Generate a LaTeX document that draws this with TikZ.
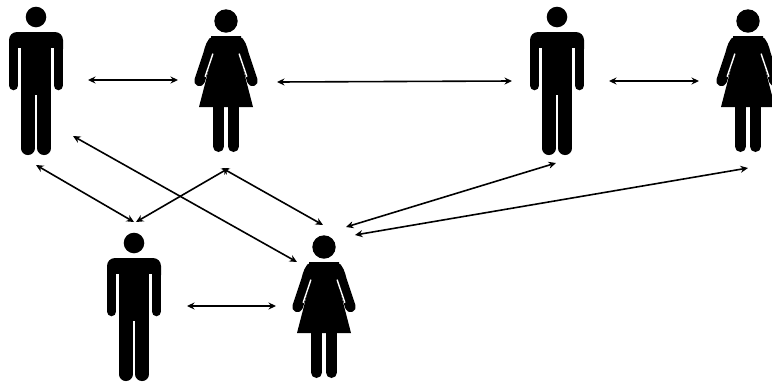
\documentclass[tikz,border=0pt]{standalone}
\usetikzlibrary{arrows.meta}
\tikzset{
  link/.style={draw=black,line width=1.6pt,{Stealth[length=7.5pt,width=7pt]}-{Stealth[length=7.5pt,width=7pt]}},
  manfig/.pic={
    \fill (0,0) circle (10.3);
    \fill[rounded corners=8pt] (-27,15) -- (27,15) -- (27,40) -- (-27,40) -- cycle;
    \fill[white] (-17.7,31) rectangle (-15,42);
    \fill[white] (17.7,31) rectangle (15,42);
    \fill (-15,30) rectangle (15,78);
    \draw[line width=9.5pt,line cap=round] (-22.3,30) -- (-22.3,68.5);
    \draw[line width=9.5pt,line cap=round] (22.3,30) -- (22.3,68.5);
    \draw[line width=13.5pt,line cap=round] (-8.2,70) -- (-8.2,131.3);
    \draw[line width=13.5pt,line cap=round] (8.2,70) -- (8.2,131.3);
  },
  womanfig/.pic={
    \fill (0,0) circle (11.7);
    \fill (-15,15) -- (15,15) -- (15,30) -- (13,32) -- (27,86) -- (-27,86) -- (-13,32) -- (-15,30) -- cycle;
    \draw[line width=10.5pt,line cap=round] (11,20.5) .. controls (14,20.5) and (16,27) .. (17.5,33) -- (26.5,60);
    \draw[line width=10.5pt,line cap=round] (-11,20.5) .. controls (-14,20.5) and (-16,27) .. (-17.5,33) -- (-26.5,60);
    \draw[white,line width=1.4pt,line cap=round] (13.2,33) -- (20.8,55.5);
    \draw[white,line width=1.4pt,line cap=round] (-13.2,33) -- (-20.8,55.5);
    \draw[line width=11pt,line cap=round] (-7.5,80) -- (-7.5,125.5);
    \draw[line width=11pt,line cap=round] (7.5,80) -- (7.5,125.5);
  }
}
\begin{document}
\begin{tikzpicture}[x=1pt,y=-1pt]
\useasboundingbox (0,0) rectangle (772,381);
\pic at (36,17) {manfig};
\pic at (226,21) {womanfig};
\pic at (557,17) {manfig};
\pic at (748,21) {womanfig};
\pic at (134,243) {manfig};
\pic at (324,247) {womanfig};
\coordinate (a1) at (88,80);
\coordinate (a2) at (178,80);
\coordinate (b1) at (277,82);
\coordinate (b2) at (512,81);
\coordinate (c1) at (609,81);
\coordinate (c2) at (699,81);
\coordinate (d1) at (187,306);
\coordinate (d2) at (276,306);
\coordinate (e1) at (36,165);
\coordinate (e2) at (134,222);
\coordinate (f1) at (73,136);
\coordinate (f2) at (297,262);
\coordinate (g1) at (136,222);
\coordinate (g2) at (229,168);
\coordinate (h1) at (222,168);
\coordinate (h2) at (323,225);
\coordinate (i1) at (346,227);
\coordinate (i2) at (556,163);
\coordinate (j1) at (355,235);
\coordinate (j2) at (748,168);
\foreach \s/\t in {a1/a2,b1/b2,c1/c2,d1/d2,e1/e2,f1/f2,g1/g2,h1/h2,i1/i2,j1/j2}
  \draw[link] (\s) -- (\t);
\end{tikzpicture}
\end{document}
